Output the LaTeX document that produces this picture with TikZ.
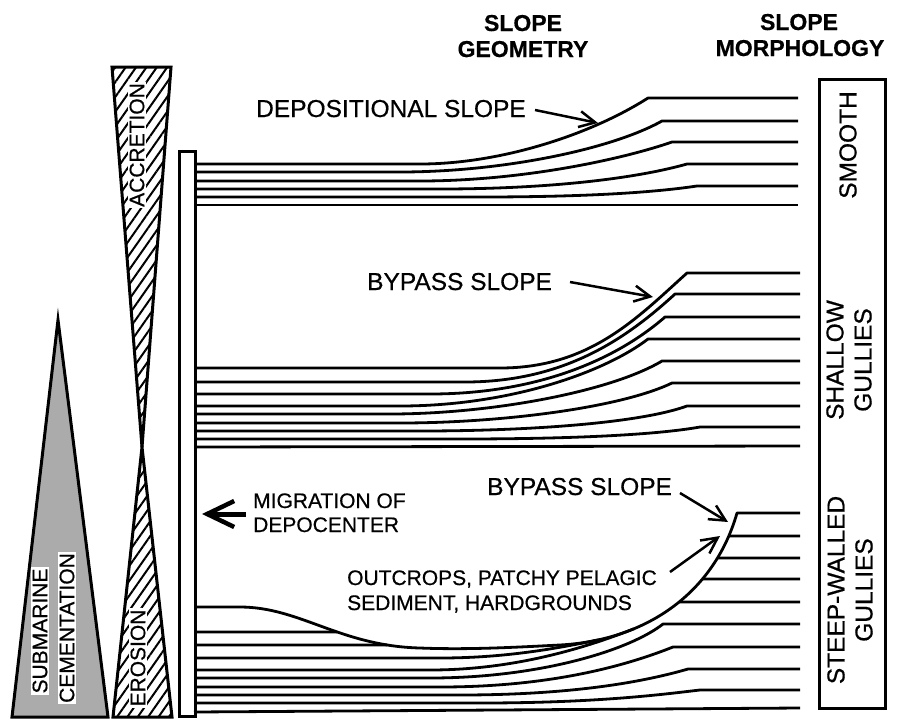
\documentclass[tikz,border=0pt]{standalone}
\usepackage{fontspec}
\setmainfont{Liberation Sans}
\newfontfamily\inkfont{Liberation Sans}[FakeBold=0.6]
\newfontfamily\inkheadfont{Liberation Sans}[UprightFont=*-Bold,FakeBold=0.5]
\usetikzlibrary{arrows.meta,patterns.meta,intersections}
\begin{document}
\begin{tikzpicture}[x=1pt,y=-1pt,
  stratum/.style={line width=2.8pt,line join=round},
  outline/.style={line width=3pt,line join=miter},
  hatched/.style={pattern={Lines[angle=55,distance=8.5pt,line width=2pt]}},
  stipple/.style={fill=black!33},
  bigtxt/.style={font=\inkfont\fontsize{24.5}{28}\selectfont,inner sep=0pt},
  smalltxt/.style={font=\inkfont\fontsize{21}{24.5}\selectfont,inner sep=0pt},
  headtxt/.style={font=\inkheadfont\fontsize{23}{26}\selectfont,inner sep=0pt},
  tag/.style={font=\inkfont\fontsize{21}{24}\selectfont,inner sep=1.5pt,fill=white,rotate=90},
  boxtxt/.style={font=\inkfont\fontsize{24.5}{28}\selectfont,inner sep=0pt,rotate=90,align=center},
  pointer/.style={line width=2.5pt,-{Straight Barb[length=16pt,width=16pt,line width=2.5pt]}},
  bigarrow/.style={line width=5pt,-{Straight Barb[length=27pt,width=26pt,line width=4.5pt]}},
]
\useasboundingbox (0,0) rectangle (905,721);

% ---- column headings
\node[headtxt,anchor=base] (geo1) at (523,31) {SLOPE};
\node[headtxt,anchor=base] (geo2) at (523,57) {GEOMETRY};
\node[headtxt,anchor=base] (mor1) at (799,30) {SLOPE};
\node[headtxt,anchor=base] (mor2) at (800,56) {MORPHOLOGY};

% ---- submarine cementation wedge
\draw[outline,stipple] (58,320) -- (108,717) -- (12,717) -- cycle;
\node[tag] (subm) at (40,631) {SUBMARINE};
\node[tag] (cem) at (67,628) {CEMENTATION};

% ---- accretion / erosion hourglass
\draw[outline,hatched] (112,67) -- (171,67) -- (142,447) -- cycle;
\draw[outline,hatched] (142,447) -- (172,717) -- (113,717) -- cycle;
\node[tag] (accr) at (137,145) {ACCRETION};
\node[tag] (eros) at (138,658) {EROSION};

% ---- depocentre column and morphology column
\node[draw,outline,minimum width=16pt,minimum height=565pt,inner sep=0pt,anchor=north west] (bar) at (178,150) {};
\node[draw,outline,minimum width=66pt,minimum height=629pt,inner sep=0pt,anchor=north west] (morphbox) at (818,78) {};
\node[boxtxt] (smooth) at (848,145) {SMOOTH};
\node[boxtxt] (shallow) at (849,360) {SHALLOW\\GULLIES};
\node[boxtxt] (steep) at (850,590) {STEEP-WALLED\\GULLIES};

% ---- upper package: depositional slope
\draw[stratum] (194,164) -- (420,164) .. controls (500,164) and (590,135) .. (648,98) -- (798,98);
\draw[stratum] (194,172) -- (400,172) .. controls (500,172) and (610,150) .. (662,121) -- (798,121);
\draw[stratum] (194,181) -- (420,181) .. controls (520,181) and (620,160) .. (672,142) -- (798,142);
\draw[stratum] (194,189) -- (440,189) .. controls (540,189) and (630,180) .. (687,164) -- (798,164);
\draw[stratum] (194,197) -- (480,197) .. controls (580,197) and (650,193) .. (697,186) -- (798,186);
\draw[stratum] (194,205) -- (798,205);

% ---- middle package: bypass slope
\draw[stratum] (194,368) -- (500,368) .. controls (590,368) and (637,318) .. (687,273) -- (800,273);
\draw[stratum] (194,382) -- (465,382) .. controls (565,382) and (627,338) .. (675,294) -- (800,294);
\draw[stratum] (194,394) -- (430,394) .. controls (540,394) and (618,358) .. (665,317) -- (800,317);
\draw[stratum] (194,406) -- (400,406) .. controls (510,406) and (605,372) .. (648,339) -- (800,339);
\draw[stratum] (194,414) -- (390,414) .. controls (490,414) and (610,392) .. (662,361) -- (800,361);
\draw[stratum] (194,423) -- (400,423) .. controls (500,423) and (620,408) .. (672,383) -- (800,383);
\draw[stratum] (194,431) -- (420,431) .. controls (530,431) and (640,423) .. (687,406) -- (800,406);
\draw[stratum] (194,439) -- (460,439) .. controls (570,439) and (655,435) .. (700,427) -- (800,427);
\draw[stratum] (194,447) -- (800,446);

% ---- lower package: erosional surface and truncated strata
\draw[stratum,name path=surf] (194,607) -- (240,607)
  .. controls (300,607) and (340,646) .. (420,648)
  .. controls (470,650) and (520,647) .. (560,645)
  .. controls (650,640) and (715,590) .. coordinate[pos=0.15] (sA) coordinate[pos=0.3] (sB) (737,513)
  -- (800,513);
\path[name path=h632] (194,632) -- (400,632);
\path[name path=h645] (194,645) -- (450,645);
\path[name path=h536] (650,536) -- (800,536);
\path[name path=h558] (650,558) -- (800,558);
\path[name path=h579] (620,579) -- (800,579);
\path[name path=h602] (600,602) -- (800,602);
\draw[stratum,name intersections={of=surf and h632,by=i632}] (194,632) -- (i632);
\draw[stratum,name intersections={of=surf and h645,by=i645}] (194,645) -- (i645);
\draw[stratum,name intersections={of=surf and h536,by=i536}] (i536) -- (800,536);
\draw[stratum,name intersections={of=surf and h558,by=i558}] (i558) -- (800,558);
\draw[stratum,name intersections={of=surf and h579,by=i579}] (i579) -- (800,579);
\draw[stratum,name intersections={of=surf and h602,by=i602}] (i602) -- (800,602);
\draw[stratum] (194,658) -- (440,658) .. controls (500,658) and (550,650) .. (sA);
\draw[stratum] (194,670) -- (430,670) .. controls (510,670) and (580,650) .. (sB);
\draw[stratum] (194,678) -- (430,678) .. controls (540,678) and (630,650) .. (663,624) -- (800,624);
\draw[stratum] (194,687) -- (440,687) .. controls (560,687) and (635,662) .. (673,647) -- (800,647);
\draw[stratum] (194,695) -- (460,695) .. controls (580,695) and (650,680) .. (688,669) -- (800,669);
\draw[stratum] (194,703) -- (480,703) .. controls (600,703) and (665,694) .. (700,690) -- (800,690);
\draw[stratum] (194,712) -- (800,708);

% ---- labels and pointers
\node[bigtxt,anchor=base west] (deplbl) at (256,117) {DEPOSITIONAL SLOPE};
\node[bigtxt,anchor=base west] (bypassA) at (367,290) {BYPASS SLOPE};
\node[bigtxt,anchor=base west] (bypassB) at (487,495) {BYPASS SLOPE};
\node[smalltxt,anchor=base west] (mig1) at (253,508) {MIGRATION OF};
\node[smalltxt,anchor=base west] (mig2) at (253,532) {DEPOCENTER};
\node[smalltxt,anchor=base west] (out1) at (347,585) {OUTCROPS, PATCHY PELAGIC};
\node[smalltxt,anchor=base west] (out2) at (347,610) {SEDIMENT, HARDGROUNDS};

\coordinate (depTail) at (535,110);
\coordinate (depTip) at (598,123);
\coordinate (byATail) at (570,282);
\coordinate (byATip) at (653,297);
\coordinate (byBTail) at (680,493);
\coordinate (byBTip) at (728,522);
\coordinate (outTail) at (670,572);
\coordinate (outTip) at (720,536);
\coordinate (migTail) at (246,514);
\coordinate (migTip) at (202,514);
\draw[pointer] (depTail) -- (depTip);
\draw[pointer] (byATail) -- (byATip);
\draw[pointer] (byBTail) -- (byBTip);
\draw[pointer] (outTail) -- (outTip);
\draw[bigarrow] (migTail) -- (migTip);
\end{tikzpicture}
\end{document}
